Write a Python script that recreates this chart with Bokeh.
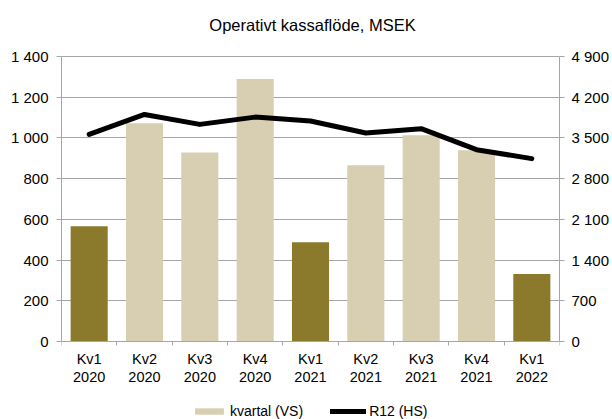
from bokeh.plotting import figure
from bokeh.models import (Range1d, LinearAxis, FixedTicker, ColumnDataSource,
                          Legend, LegendItem, Grid, Label)
from bokeh.embed import file_html
from bokeh.resources import INLINE

# ---- data ----
quarters = ["Kv1", "Kv2", "Kv3", "Kv4", "Kv1", "Kv2", "Kv3", "Kv4", "Kv1"]
years = ["2020", "2020", "2020", "2020", "2021", "2021", "2021", "2021", "2022"]
kvartal = [566, 1072, 928, 1289, 488, 866, 1013, 939, 331]
r12 = [3561, 3904, 3733, 3858, 3790, 3584, 3659, 3298, 3144]
left_ticks = [0, 200, 400, 600, 800, 1000, 1200, 1400]
left_labels = ["0", "200", "400", "600", "800", "1 000", "1 200", "1 400"]
right_ticks = [0, 700, 1400, 2100, 2800, 3500, 4200, 4900]
right_labels = ["0", "700", "1 400", "2 100", "2 800", "3 500", "4 200", "4 900"]
title_text = "Operativt kassaflöde, MSEK"
legend_labels = ["kvartal (VS)", "R12 (HS)"]

# ---- style / layout ----
DARK = "#8B7A2B"
LIGHT = "#D8CEB2"
GRID = "#A6A6A6"
FONT = "Liberation Sans"
TXT = "#000000"
W, H = 612, 419
TOP, LEFT, RIGHT = 56, 61, 51      # pixel position of the value area
PLOT_H = 285                       # pixel height of the value area (0 .. max)
BELOW = H - TOP - PLOT_H           # room under the zero line (labels + legend)
TITLE_Y = 24                       # pixel centre of the title

n = len(quarters)
xs = list(range(n))
colors = [DARK if q == "Kv1" else LIGHT for q in quarters]
src = ColumnDataSource(dict(x=xs, kvartal=kvartal, r12=r12, color=colors))

lmax, rmax = left_ticks[-1], right_ticks[-1]
p = figure(width=W, height=H, output_backend="svg", toolbar_location=None,
           x_range=Range1d(-0.5, n - 0.5),
           y_range=Range1d(-lmax * BELOW / PLOT_H, lmax * (1 + TOP / PLOT_H)),
           min_border_left=LEFT, min_border_right=RIGHT, min_border_top=0,
           min_border_bottom=0, x_axis_location=None, y_axis_location=None,
           outline_line_color=None)
p.extra_y_ranges = {"r12": Range1d(-rmax * BELOW / PLOT_H, rmax * (1 + TOP / PLOT_H))}
p.xgrid.visible = False
p.ygrid.visible = False
p.title.visible = False


def style_axis(ax, size="15px"):
    ax.axis_line_color = GRID
    ax.axis_line_width = 1
    ax.major_label_text_font = FONT
    ax.major_label_text_font_size = size
    ax.major_label_text_color = TXT
    ax.major_tick_line_color = GRID
    ax.major_tick_in = 0
    ax.major_tick_out = 5
    ax.minor_tick_line_color = None


xaxis = LinearAxis(
    ticker=FixedTicker(ticks=xs, minor_ticks=[i - 0.5 for i in range(n + 1)]),
    major_label_overrides={i: f"{q}\n{y}" for i, (q, y) in enumerate(zip(quarters, years))},
    fixed_location=0)
style_axis(xaxis, "14.5px")
xaxis.major_tick_line_color = None
xaxis.major_tick_out = 0
xaxis.minor_tick_line_color = GRID
xaxis.minor_tick_in = 0
xaxis.minor_tick_out = 4
xaxis.major_label_standoff = 5
xaxis.major_label_text_line_height = 1.15
p.add_layout(xaxis, "below")

yaxis = LinearAxis(ticker=FixedTicker(ticks=left_ticks), bounds=(0, lmax),
                   major_label_overrides=dict(zip(left_ticks, left_labels)))
style_axis(yaxis)
yaxis.major_label_standoff = 8
p.add_layout(yaxis, "left")

raxis = LinearAxis(y_range_name="r12", ticker=FixedTicker(ticks=right_ticks),
                   bounds=(0, rmax),
                   major_label_overrides=dict(zip(right_ticks, right_labels)))
style_axis(raxis)
raxis.major_label_standoff = 7
p.add_layout(raxis, "right")

p.add_layout(Grid(dimension=1, ticker=FixedTicker(ticks=left_ticks),
                  grid_line_color=GRID, grid_line_width=1))

bars = p.vbar(x="x", top="kvartal", bottom=0, width=0.67, source=src,
              fill_color="color", line_color=None)
line = p.line(x="x", y="r12", source=src, y_range_name="r12", line_color="black",
              line_width=5, line_join="round", line_cap="round")

# chart title (placed above the value area)
p.add_layout(Label(x=(n - 1) / 2, y=lmax * (1 + (TOP - TITLE_Y) / PLOT_H), x_offset=2,
                   text=title_text, text_align="center", text_baseline="middle",
                   text_font=FONT, text_font_size="16.5px", text_color=TXT))

legend = Legend(items=[LegendItem(label=legend_labels[0], renderers=[bars], index=1),
                       LegendItem(label=legend_labels[1], renderers=[line])],
                orientation="horizontal", location=(130, 0),
                glyph_width=36, glyph_height=8, label_standoff=3, spacing=27,
                padding=0, margin=0, border_line_color=None, background_fill_alpha=0,
                label_text_font=FONT, label_text_font_size="14px", label_text_color=TXT,
                label_height=14)
p.add_layout(legend, "center")

open("out.html", "w").write(file_html(p, INLINE))
